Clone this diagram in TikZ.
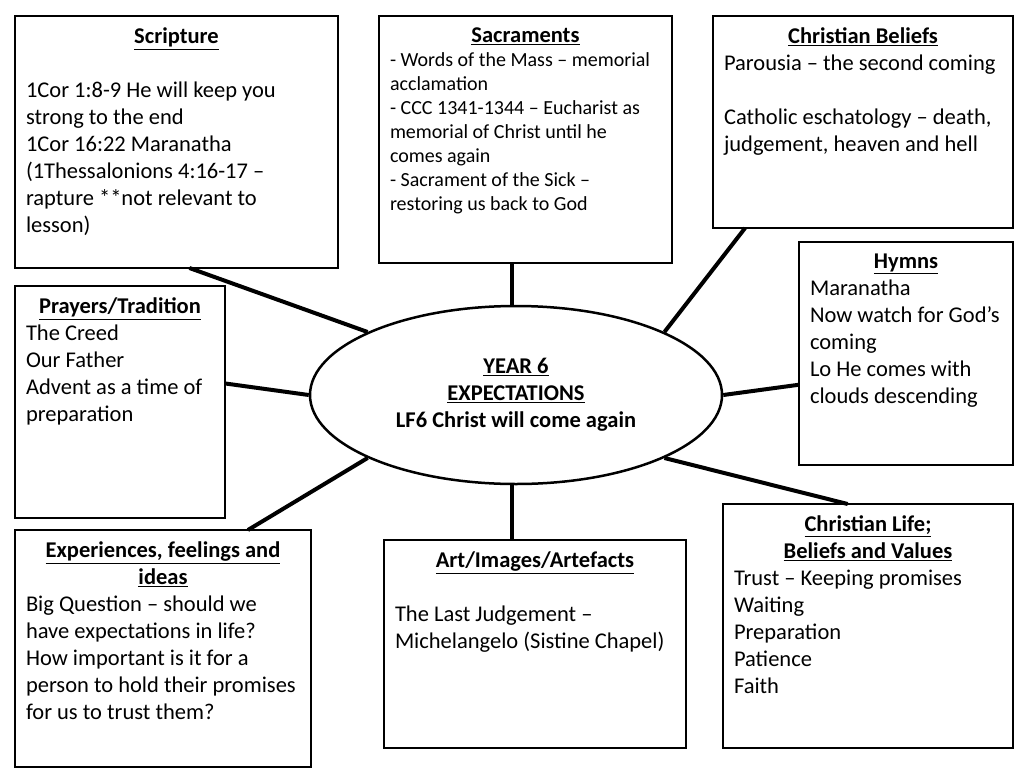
\documentclass[tikz,border=0pt]{standalone}
\usepackage{fontspec}
\setmainfont{Carlito}
\usetikzlibrary{shapes.geometric,calc}

\newcommand{\bodyfont}{\fontsize{22.5}{27}\selectfont}
\newcommand{\smallbody}{\fontsize{20}{24}\selectfont}
\newcommand{\cardtitle}[1]{{\centering\bfseries\underline{#1}\par}}
\newcommand{\cardtext}[3]{\begin{minipage}[t][#2pt][t]{#1pt}\raggedright #3\end{minipage}}

\begin{document}
\begin{tikzpicture}[x=1pt,y=-1pt,
    card/.style={draw,line width=2.8pt,fill=white,anchor=north west,
      inner xsep=11pt,inner ysep=12pt,outer sep=0pt,font=\bodyfont},
    link/.style={line width=4pt}]
  \useasboundingbox (0,0) rectangle (1024,768);

  % centre
  \node[draw,ellipse,line width=2.5pt,minimum width=412pt,minimum height=178pt,
    inner sep=0pt,align=center,font=\bodyfont\bfseries] (cent) at (516,395)
    {\underline{YEAR 6}\\\underline{EXPECTATIONS}\\LF6 Christ will come again};

  % boxes round it
  \node[card] (scrip) at (15,16) {\cardtext{301}{228}{%
    \cardtitle{Scripture}\mbox{}\par
    1Cor 1:8-9 He will keep you\\strong to the end\\1Cor 16:22 Maranatha\\
    (1Thessalonions 4:16-17 --\\rapture **not relevant to\\lesson)}};
  \node[card] (sacr) at (379,16) {\cardtext{271}{223}{%
    \cardtitle{Sacraments}
    {\smallbody - Words of the Mass -- memorial\\acclamation\\
    - CCC 1341-1344 -- Eucharist as\\memorial of Christ until he\\comes again\\
    - Sacrament of the Sick --\\restoring us back to God\par}}};
  \node[card] (beli) at (713,16) {\cardtext{278}{188}{%
    \cardtitle{Christian Beliefs}
    Parousia -- the second coming\\\mbox{}\\
    Catholic eschatology -- death,\\judgement, heaven and hell}};
  \node[card] (hymn) at (799,242) {\cardtext{192}{199}{%
    \cardtitle{Hymns}
    Maranatha\\Now watch for God’s\\coming\\Lo He comes with\\clouds descending}};
  \node[card] (pray) at (15,286) {\cardtext{188}{208}{%
    \cardtitle{Prayers/Tradition}
    The Creed\\Our Father\\Advent as a time of\\preparation}};
  \node[card] (expe) at (15,530) {\cardtext{274}{213}{%
    \cardtitle{Experiences, feelings and}\cardtitle{ideas}
    Big Question -- should we\\have expectations in life?\\How important is it for a\\
    person to hold their promises\\for us to trust them?}};
  \node[card] (art) at (384,540) {\cardtext{280}{184}{%
    \cardtitle{Art/Images/Artefacts}\mbox{}\par
    The Last Judgement --\\Michelangelo (Sistine Chapel)}};
  \node[card] (life) at (723,504) {\cardtext{268}{220}{%
    \cardtitle{Christian Life;}\cardtitle{Beliefs and Values}
    Trust -- Keeping promises\\Waiting\\Preparation\\Patience\\Faith}};

  % spokes
  \draw[link] ($(scrip.south west)!0.54!(scrip.south east)$) -- (cent.157);
  \draw[link] ($(sacr.south west)!0.454!(sacr.south east)$) coordinate (sacrp)
    -- (sacrp |- cent.north);
  \draw[link] ($(beli.south west)!0.107!(beli.south east)$) -- (cent.23);
  \draw[link] ($(hymn.north west)!0.64!(hymn.south west)$) -- (cent.east);
  \draw[link] ($(pray.north east)!0.42!(pray.south east)$) -- (cent.west);
  \draw[link] ($(expe.north west)!0.787!(expe.north east)$) -- (cent.203);
  \draw[link] ($(art.north west)!0.424!(art.north east)$) coordinate (artp)
    -- (artp |- cent.south);
  \draw[link] ($(life.north west)!0.43!(life.north east)$) -- (cent.337);
\end{tikzpicture}
\end{document}
